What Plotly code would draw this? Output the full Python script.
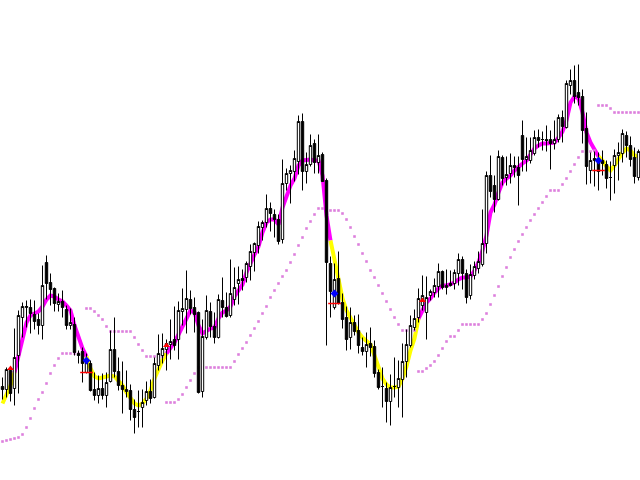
import plotly.graph_objects as go

# ---- candle data (one bar per period) ----
open_ = [94, 91, 110, 92, 125, 163, 173, 173, 166, 161, 155, 218, 198, 192, 176, 179, 171, 155, 156, 127,
         129, 108, 117, 91, 85, 92, 85, 99, 131, 109, 95, 89, 90, 71, 69, 73, 80, 89, 83, 115,
         125, 131, 136, 141, 141, 169, 171, 181, 173, 168, 89, 143, 169, 154, 143, 180, 173, 165, 181, 197,
         202, 203, 214, 228, 235, 253, 258, 272, 266, 261, 241, 297, 307, 309, 319, 359, 309, 316, 337, 318,
         326, 300, 217, 173, 202, 178, 163, 143, 158, 150, 133, 129, 137, 134, 108, 94, 92, 79, 94, 93,
         101, 119, 135, 153, 163, 175, 168, 185, 188, 194, 209, 193, 197, 197, 207, 221, 207, 185, 205, 212,
         216, 237, 305, 295, 281, 323, 303, 307, 315, 313, 345, 321, 320, 327, 343, 341, 341, 341, 337, 341,
         363, 353, 395, 400, 388, 384, 352, 310, 322, 322, 320, 316, 303, 315, 325, 327, 345, 335, 323, 303]
high = [103, 113, 113, 152, 170, 178, 180, 181, 180, 167, 215, 225, 207, 193, 187, 190, 175, 172, 163, 130,
        133, 127, 120, 108, 105, 107, 108, 150, 163, 123, 119, 110, 96, 81, 90, 91, 99, 101, 123, 146,
        147, 141, 161, 174, 179, 192, 210, 190, 183, 169, 161, 185, 178, 168, 186, 203, 188, 221, 213, 214,
        211, 219, 236, 238, 259, 260, 286, 278, 271, 266, 321, 312, 315, 330, 365, 367, 328, 346, 341, 346,
        328, 302, 224, 217, 229, 187, 174, 173, 165, 166, 143, 148, 153, 140, 111, 113, 98, 106, 123, 120,
        137, 151, 165, 171, 192, 205, 204, 191, 202, 217, 210, 211, 210, 211, 227, 224, 211, 216, 219, 229,
        271, 309, 325, 305, 330, 325, 324, 327, 324, 324, 360, 343, 343, 350, 351, 349, 355, 350, 360, 366,
        370, 400, 411, 415, 416, 391, 368, 328, 329, 328, 330, 320, 319, 331, 338, 351, 349, 344, 333, 331]
low = [81, 83, 79, 75, 87, 143, 153, 147, 151, 146, 141, 181, 175, 169, 169, 163, 151, 151, 125, 117,
       98, 107, 89, 80, 77, 81, 73, 98, 103, 90, 67, 83, 60, 47, 53, 53, 75, 77, 82, 110,
       117, 110, 121, 130, 121, 155, 147, 166, 148, 87, 83, 141, 143, 137, 142, 163, 163, 163, 175, 176,
       190, 198, 200, 209, 227, 240, 253, 249, 243, 236, 237, 290, 277, 299, 306, 290, 297, 314, 307, 307,
       299, 135, 163, 171, 176, 152, 130, 131, 145, 127, 125, 113, 124, 103, 91, 73, 58, 55, 83, 73,
       63, 103, 133, 150, 158, 170, 141, 180, 183, 183, 191, 186, 194, 191, 195, 191, 177, 181, 201, 207,
       214, 227, 283, 268, 280, 295, 295, 297, 303, 275, 309, 309, 317, 325, 333, 330, 329, 311, 331, 338,
       338, 352, 386, 377, 375, 337, 296, 297, 294, 290, 305, 292, 280, 287, 300, 318, 323, 314, 297, 300]
close = [91, 111, 87, 123, 165, 174, 174, 167, 159, 155, 195, 197, 191, 177, 179, 173, 155, 158, 128, 125,
         117, 118, 90, 85, 92, 85, 98, 131, 109, 95, 91, 91, 71, 63, 69, 78, 89, 82, 117, 127,
         132, 137, 139, 135, 170, 172, 182, 172, 166, 88, 144, 170, 154, 143, 181, 173, 164, 187, 193, 201,
         200, 217, 229, 237, 254, 258, 272, 267, 261, 239, 297, 307, 310, 322, 359, 309, 316, 335, 318, 325,
         299, 218, 189, 201, 177, 161, 141, 158, 149, 135, 129, 136, 133, 107, 93, 94, 79, 93, 94, 102,
         119, 136, 155, 162, 182, 185, 183, 189, 195, 209, 193, 195, 195, 208, 221, 207, 183, 206, 214, 219,
         237, 305, 289, 281, 324, 302, 306, 315, 313, 305, 321, 324, 330, 343, 340, 341, 340, 337, 341, 363,
         354, 397, 400, 384, 383, 350, 314, 320, 320, 309, 317, 302, 303, 325, 328, 347, 335, 321, 304, 329]

# ---- thick moving average, coloured by trend ----
ma = [77, 85, 95, 108, 125, 142, 158, 165, 167, 169, 174, 181, 185, 184, 181, 179, 175, 170, 155, 142,
      132, 124, 112, 104, 102, 103, 104, 105, 104, 100, 95, 88, 82, 77, 75, 77, 82, 90, 102, 112,
      120, 127, 132, 138, 146, 154, 164, 170, 168, 155, 147, 150, 152, 153, 162, 168, 170, 174, 184, 190,
      196, 208, 218, 226, 234, 248, 258, 261, 261, 256, 273, 285, 295, 302, 315, 320, 321, 321, 320, 320,
      305, 265, 240, 220, 200, 182, 170, 162, 155, 148, 143, 140, 136, 125, 113, 102, 96, 93, 93, 94,
      102, 114, 130, 142, 162, 170, 178, 182, 188, 192, 195, 195, 196, 198, 201, 203, 203, 204, 210, 218,
      230, 245, 268, 276, 288, 298, 302, 305, 310, 314, 317, 320, 326, 332, 335, 337, 337, 338, 338, 343,
      349, 360, 378, 384, 382, 368, 348, 338, 330, 324, 320, 314, 310, 315, 322, 328, 332, 330, 325, 324]
up_starts = [3, 41, 104]
down_starts = [0, 21, 82, 149]

# ---- dotted trailing line ----
trail = [39, 40, 41, 42, 43, 46, 53, 62, 72, 81, 88, 97, 107, 115, 122, 127, 127, 127, 127, 127,
         127, 172, 172, 169, 165, 161, 154, 149, 149, 149, 149, 149, 149, 143, 136, 130, 124, 124, 124, 124,
         124, 78, 78, 78, 81, 86, 93, 100, 107, 113, 113, 113, 113, 113, 113, 113, 113, 113, 119, 126,
         132, 138, 145, 152, 159, 167, 174, 183, 190, 197, 204, 210, 218, 226, 235, 243, 252, 259, 266, 272,
         272, 272, 270, 270, 270, 267, 261, 253, 244, 236, 227, 219, 210, 203, 195, 187, 179, 171, 163, 156,
         150, 150, 150, 150, 109, 109, 112, 115, 119, 125, 132, 139, 144, 144, 150, 156, 156, 156, 156, 156,
         161, 167, 176, 185, 194, 204, 213, 223, 231, 239, 246, 253, 260, 266, 272, 278, 284, 290, 290, 290,
         296, 302, 309, 316, 323, 329, 329, 329, 330, 375, 375, 375, 372, 368, 368, 368, 368, 368, 368, 368]

# ---- signal markers ----
buy_idx = [2, 41, 105]
buy_price = [112, 135, 180]
sell_idx = [21, 83, 149]
sell_price = [120, 187, 320]
sell_stop_price = [108, 177, 310]

n = len(close)
x = list(range(n))

fig = go.Figure()

# moving average segments (base subplot, drawn under the candles)
starts = sorted([(s, 'up') for s in up_starts] + [(s, 'down') for s in down_starts])
for i, (s, kind) in enumerate(starts):
    e = starts[i + 1][0] if i + 1 < len(starts) else n - 1
    seg = list(range(s, min(e, n - 1) + 1))
    fig.add_trace(go.Scatter(
        x=seg, y=[ma[j] for j in seg], mode='lines',
        line=dict(color='#FF00FF' if kind == 'up' else '#FFFF00', width=4),
        hoverinfo='skip', showlegend=False, xaxis='x', yaxis='y'))

fig.add_trace(go.Scatter(
    x=x, y=trail, mode='markers',
    marker=dict(symbol='square', size=2.6, color='#DD7FDD', line=dict(width=0)),
    hoverinfo='skip', showlegend=False, xaxis='x', yaxis='y'))

# candles on an overlaid axis pair so they draw above the lines
fig.add_trace(go.Candlestick(
    x=x, open=open_, high=high, low=low, close=close,
    increasing=dict(line=dict(color='black', width=1), fillcolor='white'),
    decreasing=dict(line=dict(color='black', width=1), fillcolor='black'),
    whiskerwidth=0, showlegend=False, xaxis='x2', yaxis='y2'))

fig.add_trace(go.Scatter(
    x=buy_idx, y=buy_price, mode='markers',
    marker=dict(symbol='triangle-up', size=6, color='#FF0000'),
    showlegend=False, xaxis='x2', yaxis='y2'))
fig.add_trace(go.Scatter(
    x=sell_idx, y=sell_price, mode='markers',
    marker=dict(symbol='diamond', size=6, color='#0000FF'),
    showlegend=False, xaxis='x2', yaxis='y2'))
fig.add_trace(go.Scatter(
    x=sell_idx, y=sell_stop_price, mode='markers',
    marker=dict(symbol='line-ew', size=9, line=dict(color='#FF0000', width=1.5)),
    showlegend=False, xaxis='x2', yaxis='y2'))

xr = [-0.625, n - 0.625]
yr = [0.5, 480.5]
fig.update_layout(
    width=640, height=480,
    margin=dict(l=0, r=0, t=0, b=0),
    paper_bgcolor='white', plot_bgcolor='white',
    showlegend=False,
    boxgap=0.15,
    xaxis=dict(range=xr, visible=False, rangeslider=dict(visible=False), fixedrange=True),
    yaxis=dict(range=yr, visible=False, fixedrange=True),
    xaxis2=dict(range=xr, visible=False, overlaying='x', anchor='y2', rangeslider=dict(visible=False)),
    yaxis2=dict(range=yr, visible=False, overlaying='y', anchor='x2'),
)

fig.write_html("out.html", config={'displayModeBar': False},
               post_script="document.body.style.margin='0';document.body.style.overflow='hidden';")
